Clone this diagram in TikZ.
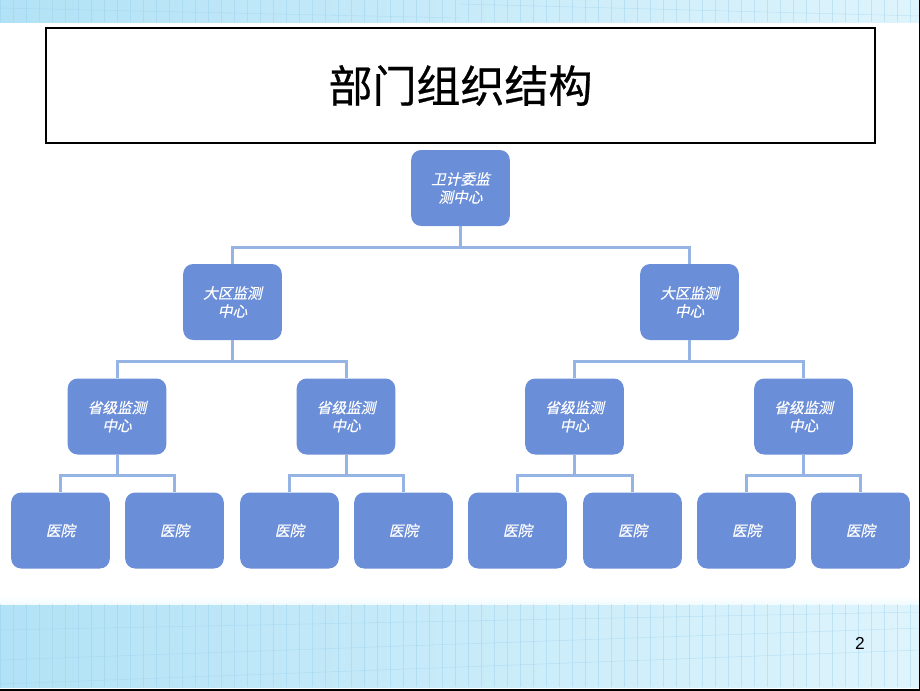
\documentclass[tikz,border=0pt]{standalone}
\usepackage{fontspec}
\newfontfamily\cjk[FakeBold=0.6]{Noto Sans CJK SC}
\newfontfamily\cjkit[FakeSlant=0.22,FakeBold=0.5]{Noto Sans CJK SC}
\setmainfont{Liberation Sans}
\definecolor{boxblue}{RGB}{107,142,216}
\definecolor{linkblue}{RGB}{149,179,227}
\definecolor{banddark}{RGB}{178,226,246}
\definecolor{bandlight}{RGB}{222,244,252}
\definecolor{gridblue}{RGB}{150,205,236}
\tikzset{
  unit/.style={draw=none, fill=boxblue, rounded corners=7.5pt, minimum width=74pt, minimum height=57pt,
    text=white, align=center, font=\cjkit\fontsize{11}{13.5}\selectfont, inner sep=1pt},
  link/.style={draw=linkblue, line width=2.25pt},
  gridline/.style={draw=gridblue, line width=0.4pt, opacity=0.4}
}
\begin{document}
\begin{tikzpicture}[x=0.75pt,y=0.75pt,yscale=-1,xscale=1]
			\useasboundingbox (0,0) rectangle (920,690);
			
			%Background bands
			\shade[left color=banddark, right color=bandlight] (0,0) rectangle (920,22);
			\shade[left color=banddark, right color=bandlight] (0,604) rectangle (920,687);
			\shade[top color=white, bottom color=white!60!bandlight] (0,596) rectangle (920,604);
			\foreach \gx in {0,13,...,920} {
				\draw[gridline] (\gx,0) -- (\gx,22);
				\draw[gridline] (\gx,604) -- (\gx,687);
			}
			\draw[gridline] (0,630) -- (920,612);
			\draw[gridline] (0,660) -- (920,628);
			\draw[gridline] (0,684) -- (920,650);
			\draw[gridline] (0,8) -- (460,18);
			\draw[gridline] (460,4) -- (920,16);
			%Slide edges
			\draw[line width=2.25pt] (920,0) -- (920,690) -- (0,690);
			
			%Title box
			\node (title) [draw, line width=1.1pt, minimum width=621.75pt, minimum height=86.25pt, inner sep=0pt] at (460.5,85.5) {\cjk\fontsize{33}{36}\selectfont 部门组织结构};
			
			% Level 1
			\node (wjw) [unit] at (460.5,188) {卫计委监\\测中心};
			% Level 2
			\node (dqa) [unit] at (232.5,302) {大区监测\\中心};
			\node (dqb) [unit] at (689.5,302) {大区监测\\中心};
			% Level 3
			\node (sja) [unit] at (117,416.5) {省级监测\\中心};
			\node (sjb) [unit] at (346,416.5) {省级监测\\中心};
			\node (sjc) [unit] at (574.5,416.5) {省级监测\\中心};
			\node (sjd) [unit] at (803.5,416.5) {省级监测\\中心};
			% Level 4
			\node (yya) [unit] at (60.5,530.5) {医院};
			\node (yyb) [unit] at (174.5,530.5) {医院};
			\node (yyc) [unit] at (289.5,530.5) {医院};
			\node (yyd) [unit] at (403.5,530.5) {医院};
			\node (yye) [unit] at (517.5,530.5) {医院};
			\node (yyf) [unit] at (632.5,530.5) {医院};
			\node (yyg) [unit] at (746.5,530.5) {医院};
			\node (yyh) [unit] at (860.5,530.5) {医院};
			
			%Connectors
			\draw[link] (wjw.south) -- ++(0,21) -| (dqa.north);
			\draw[link] (wjw.south) -- ++(0,21) -| (dqb.north);
			\draw[link] (dqa.south) -- ++(0,21) -| (sja.north);
			\draw[link] (dqa.south) -- ++(0,21) -| (sjb.north);
			\draw[link] (dqb.south) -- ++(0,21) -| (sjc.north);
			\draw[link] (dqb.south) -- ++(0,21) -| (sjd.north);
			\draw[link] (sja.south) -- ++(0,21) -| (yya.north);
			\draw[link] (sja.south) -- ++(0,21) -| (yyb.north);
			\draw[link] (sjb.south) -- ++(0,21) -| (yyc.north);
			\draw[link] (sjb.south) -- ++(0,21) -| (yyd.north);
			\draw[link] (sjc.south) -- ++(0,21) -| (yye.north);
			\draw[link] (sjc.south) -- ++(0,21) -| (yyf.north);
			\draw[link] (sjd.south) -- ++(0,21) -| (yyg.north);
			\draw[link] (sjd.south) -- ++(0,21) -| (yyh.north);
			
			% Page number
			\node (pageno) [font=\fontsize{13}{15}\selectfont] at (860,643) {2};
			
\end{tikzpicture}
\end{document}
